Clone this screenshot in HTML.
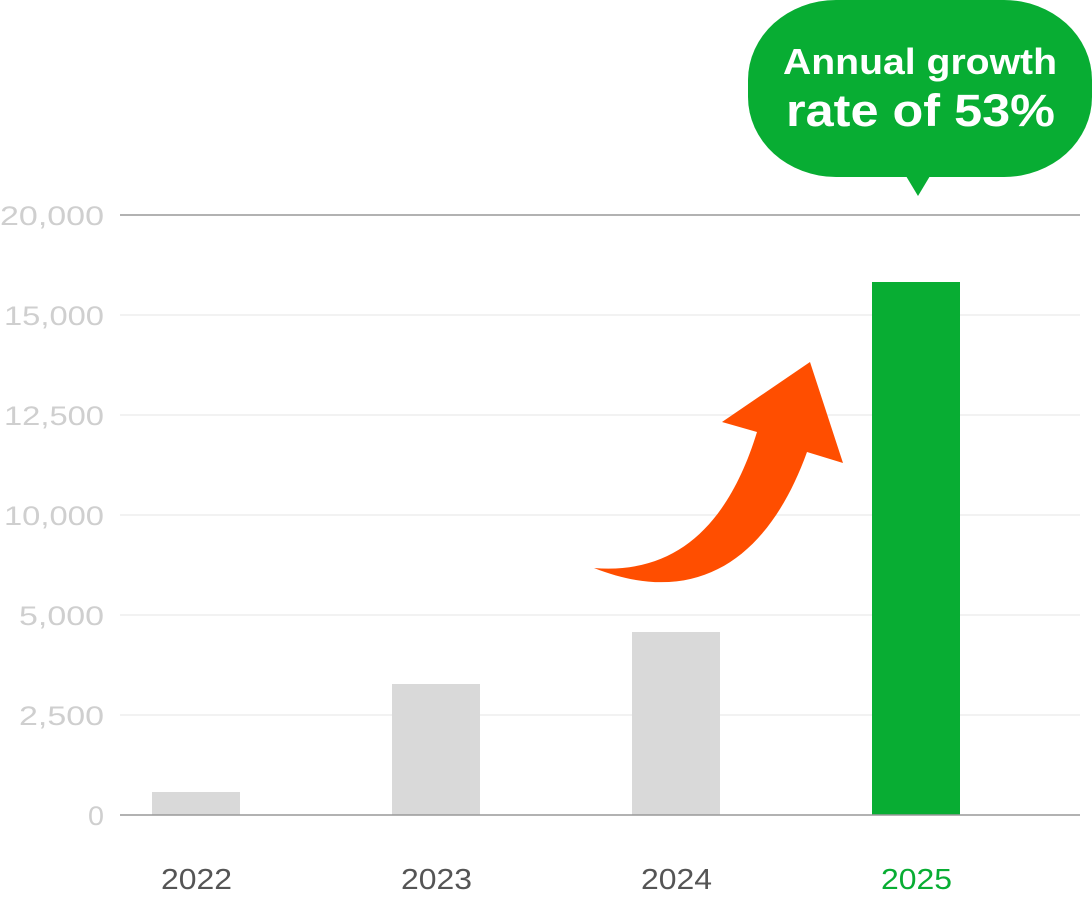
<!DOCTYPE html>
<html><head><meta charset="utf-8"><style>
body{margin:0;background:#fff;width:1092px;height:896px;overflow:hidden;font-family:"Liberation Sans",sans-serif}
</style></head><body>
<svg width="1092" height="896" xmlns="http://www.w3.org/2000/svg">
<g stroke="#eeeeee" stroke-width="1.5">
<line x1="120" y1="315" x2="1080" y2="315"/>
<line x1="120" y1="415" x2="1080" y2="415"/>
<line x1="120" y1="515" x2="1080" y2="515"/>
<line x1="120" y1="615" x2="1080" y2="615"/>
<line x1="120" y1="715" x2="1080" y2="715"/>
</g>
<line x1="120" y1="215" x2="1080" y2="215" stroke="#999" stroke-width="1.5"/>
<g font-size="27" fill="#cfcfcf" lengthAdjust="spacingAndGlyphs">
<text x="0" y="225" textLength="104" lengthAdjust="spacingAndGlyphs">20,000</text>
<text x="4" y="325" textLength="100" lengthAdjust="spacingAndGlyphs">15,000</text>
<text x="4" y="425" textLength="100" lengthAdjust="spacingAndGlyphs">12,500</text>
<text x="4" y="525" textLength="100" lengthAdjust="spacingAndGlyphs">10,000</text>
<text x="19" y="625" textLength="85" lengthAdjust="spacingAndGlyphs">5,000</text>
<text x="19" y="725" textLength="85" lengthAdjust="spacingAndGlyphs">2,500</text>
<text x="88" y="825" textLength="16" lengthAdjust="spacingAndGlyphs">0</text>
</g>
<rect x="152" y="792" width="88" height="23" fill="#d9d9d9"/>
<rect x="392" y="684" width="88" height="131" fill="#d9d9d9"/>
<rect x="632" y="632" width="88" height="183" fill="#d9d9d9"/>
<rect x="872" y="282" width="88" height="533" fill="#08ad33"/>
<line x1="120" y1="815" x2="1080" y2="815" stroke="#999" stroke-width="1.5"/>
<g font-size="29" fill="#555">
<text x="161" y="889" textLength="71" lengthAdjust="spacingAndGlyphs">2022</text>
<text x="401" y="889" textLength="71" lengthAdjust="spacingAndGlyphs">2023</text>
<text x="641" y="889" textLength="71" lengthAdjust="spacingAndGlyphs">2024</text>
<text x="881" y="889" textLength="71" lengthAdjust="spacingAndGlyphs" fill="#08ad33">2025</text>
</g>
<path d="M594,568 C680,575 730,520 757,432 L722,422 L810,362 L843,463 L807,452 C770,555 700,610 594,568 Z" fill="#ff4e00"/>
<rect x="748" y="0" width="344" height="177" rx="88" ry="80" fill="#08ad33"/>
<polygon points="906,176 930,176 918,196" fill="#08ad33"/>
<g fill="#fff" font-weight="bold">
<text x="783" y="74" font-size="36" textLength="274" lengthAdjust="spacingAndGlyphs">Annual growth</text>
<text x="786" y="126" font-size="45" textLength="269" lengthAdjust="spacingAndGlyphs">rate of 53%</text>
</g>
</svg>
</body></html>
